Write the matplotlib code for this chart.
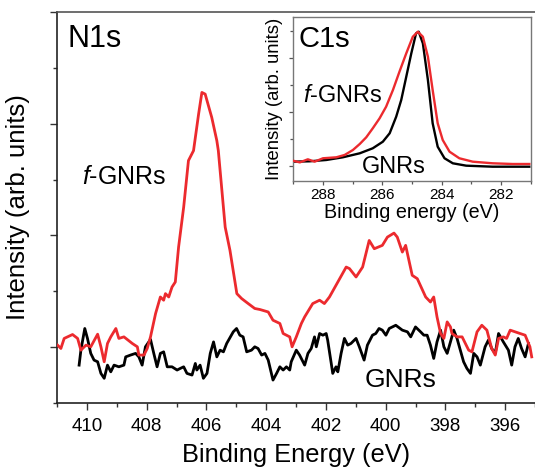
import matplotlib
matplotlib.use("Agg")
import matplotlib.pyplot as plt
from matplotlib.ticker import MultipleLocator, NullFormatter

plt.rcParams['font.family'] = ['Liberation Sans', 'DejaVu Sans']
plt.rcParams['mathtext.fontset'] = 'custom'
plt.rcParams['mathtext.rm'] = 'Liberation Sans'
plt.rcParams['mathtext.it'] = 'Liberation Sans:italic'

RED = '#ec2a2e'

# ---- N1s main spectrum (binding energy eV, intensity arb.) ----
n1s_f_x = [410.98, 410.87, 410.76, 410.48, 410.31, 410.20, 410.03, 409.87, 409.64, 409.53,
           409.42, 409.31, 409.20, 409.03, 408.93, 408.76, 408.48, 408.31, 408.26, 408.09,
           407.98, 407.87, 407.70, 407.54, 407.43, 407.37, 407.26, 407.15, 407.04, 406.93,
           406.76, 406.60, 406.43, 406.26, 406.15, 406.04, 405.82, 405.65, 405.60, 405.37,
           405.21, 404.98, 404.82, 404.60, 404.38, 404.21, 403.93, 403.77, 403.54, 403.43,
           403.21, 403.13, 402.99, 402.82, 402.71, 402.44, 402.21, 402.05, 401.88, 401.60,
           401.32, 401.21, 400.99, 400.77, 400.55, 400.38, 400.11, 399.94, 399.72, 399.61,
           399.44, 399.33, 399.11, 398.94, 398.66, 398.50, 398.39, 398.28, 398.16, 398.05,
           397.94, 397.83, 397.78, 397.61, 397.44, 397.22, 397.11, 396.94, 396.78, 396.61,
           396.45, 396.33, 396.22, 396.06, 395.95, 395.83, 395.50, 395.33, 395.17, 395.11]
n1s_f_y = [0.018, -0.012, 0.078, 0.113, 0.078, -0.027, 0.018, 0.003, 0.116, 0.003,
           -0.131, 0.033, 0.092, 0.167, 0.078, 0.092, 0.033, 0.003, -0.071, -0.071,
           -0.012, 0.092, 0.301, 0.449, 0.420, 0.479, 0.449, 0.538, 0.583, 0.896,
           1.253, 1.670, 1.759, 2.087, 2.280, 2.265, 2.056, 1.848, 1.759, 1.074,
           0.866, 0.479, 0.435, 0.390, 0.346, 0.337, 0.315, 0.241, 0.212, 0.122,
           0.092, 0.003, 0.092, 0.212, 0.271, 0.390, 0.420, 0.390, 0.449, 0.583,
           0.717, 0.703, 0.628, 0.717, 0.955, 0.881, 0.911, 0.985, 1.021, 0.985,
           0.851, 0.911, 0.643, 0.613, 0.449, 0.404, 0.449, 0.271, 0.122, 0.078,
           0.226, 0.181, 0.122, 0.092, 0.092, -0.027, -0.042, 0.137, 0.196, 0.152,
           -0.012, -0.071, 0.078, 0.092, 0.078, 0.152, 0.122, 0.107, 0.003, -0.087]

n1s_g_x = [410.26, 410.20, 410.07, 409.98, 409.87, 409.76, 409.64, 409.53, 409.42, 409.31,
           409.20, 409.09, 408.93, 408.76, 408.70, 408.54, 408.37, 408.26, 408.15, 408.04,
           407.87, 407.76, 407.65, 407.54, 407.43, 407.31, 407.15, 406.98, 406.87, 406.76,
           406.65, 406.48, 406.37, 406.32, 406.21, 406.10, 405.98, 405.87, 405.76, 405.65,
           405.54, 405.43, 405.32, 405.10, 404.99, 404.88, 404.77, 404.65, 404.49, 404.38,
           404.27, 404.15, 404.04, 403.93, 403.77, 403.65, 403.54, 403.43, 403.32, 403.21,
           403.16, 402.99, 402.88, 402.71, 402.60, 402.49, 402.38, 402.32, 402.21, 402.10,
           401.99, 401.94, 401.82, 401.77, 401.66, 401.60, 401.49, 401.38, 401.27, 401.16,
           400.99, 400.88, 400.72, 400.61, 400.44, 400.33, 400.22, 400.11, 399.99, 399.88,
           399.66, 399.44, 399.27, 399.16, 399.00, 398.83, 398.72, 398.61, 398.50, 398.39,
           398.28, 398.16, 398.05, 397.94, 397.83, 397.72, 397.61, 397.50, 397.39, 397.28,
           397.16, 397.05, 396.94, 396.83, 396.67, 396.56, 396.45, 396.33, 396.22, 396.06,
           395.89, 395.78, 395.67, 395.56, 395.45, 395.33, 395.22]
n1s_g_y = [-0.161, -0.027, 0.167, 0.078, -0.056, -0.116, -0.131, -0.235, -0.279, -0.161,
           -0.221, -0.161, -0.176, -0.161, -0.087, -0.071, -0.056, -0.087, -0.161, 0.003,
           0.069, -0.056, -0.176, -0.056, -0.042, -0.176, -0.176, -0.205, -0.190, -0.176,
           -0.235, -0.250, -0.146, -0.205, -0.161, -0.279, -0.235, -0.056, 0.047, -0.087,
           -0.027, -0.042, 0.033, 0.137, 0.167, 0.107, 0.092, -0.042, -0.027, 0.003,
           -0.012, -0.071, -0.056, -0.116, -0.295, -0.235, -0.176, -0.205, -0.176, -0.205,
           -0.131, -0.027, -0.071, -0.161, -0.056, -0.012, 0.092, 0.003, 0.122, 0.107,
           0.122, 0.063, -0.146, -0.235, -0.176, -0.221, -0.056, 0.078, 0.018, 0.033,
           0.078, 0.003, -0.116, 0.018, 0.107, 0.122, 0.167, 0.152, 0.107, 0.167,
           0.196, 0.152, 0.137, 0.092, 0.181, 0.137, 0.107, 0.107, 0.018, -0.101,
           0.047, 0.152, 0.003, -0.056, 0.047, 0.152, 0.078, -0.027, -0.131, -0.190,
           -0.235, -0.056, -0.087, -0.161, 0.003, 0.063, -0.012, -0.056, 0.122, 0.047,
           -0.027, -0.161, 0.003, 0.078, -0.012, -0.087, 0.033]

# ---- C1s inset spectrum ----
c1s_f_x = [289.01, 288.78, 288.51, 288.28, 288.00, 287.55, 287.27, 286.99, 286.76, 286.54,
           286.32, 286.09, 285.87, 285.64, 285.42, 285.19, 284.97, 284.80, 284.63, 284.46,
           284.30, 284.13, 283.96, 283.73, 283.40, 282.95, 282.28, 281.60, 281.04]
c1s_f_y = [0.098, 0.067, 0.124, 0.080, 0.143, 0.161, 0.204, 0.296, 0.407, 0.531,
           0.698, 0.883, 1.098, 1.407, 1.746, 2.087, 2.394, 2.487, 2.394, 2.024,
           1.407, 0.791, 0.481, 0.265, 0.143, 0.080, 0.050, 0.037, 0.037]
c1s_g_x = [289.01, 288.45, 287.89, 287.33, 286.76, 286.32, 285.98, 285.75, 285.53, 285.36,
           285.19, 285.02, 284.86, 284.77, 284.63, 284.46, 284.30, 284.13, 283.90, 283.62,
           283.17, 282.28, 281.04]
c1s_g_y = [0.080, 0.087, 0.111, 0.161, 0.235, 0.328, 0.450, 0.606, 0.913, 1.222,
           1.654, 2.087, 2.457, 2.487, 2.272, 1.593, 0.791, 0.357, 0.143, 0.050,
           0.006, -0.013, -0.013]

main_xticks = [410, 408, 406, 404, 402, 400, 398, 396]
inset_xticks = [288, 286, 284, 282]

W, H = 535, 469
fig = plt.figure(figsize=(W / 100, H / 100), dpi=100)

# main axes
mx0, mx1, my0, my1 = 57, 535, 403, 12
ax = fig.add_axes([mx0 / W, 1 - my0 / H, (mx1 - mx0) / W, (my0 - my1) / H])
ax.plot(n1s_g_x, n1s_g_y, color='black', lw=2.0, zorder=2)
ax.plot(n1s_f_x, n1s_f_y, color=RED, lw=2.0, zorder=3)
ax.set_xlim(411, 395)
ax.set_ylim(-0.5, 3.0)
ax.set_xticks(main_xticks)
ax.set_xticklabels([str(t) for t in main_xticks])
ax.xaxis.set_minor_locator(MultipleLocator(1))
ax.yaxis.set_major_locator(MultipleLocator(1))
ax.yaxis.set_minor_locator(MultipleLocator(0.5))
ax.yaxis.set_major_formatter(NullFormatter())
ax.tick_params(axis='both', which='major', direction='out', length=5, width=1.0,
               labelsize=13.5, color='#333333')
ax.tick_params(axis='both', which='minor', direction='out', length=3, width=1.0, color='#333333')
ax.tick_params(axis='x', which='major', pad=5.5)
ax.spines['right'].set_visible(False)
for s in ['left', 'bottom']:
    ax.spines[s].set_color('#222222')
    ax.spines[s].set_linewidth(1.2)
ax.spines['top'].set_color('#555555')
ax.spines['top'].set_linewidth(1.2)
ax.set_xlabel('Binding Energy (eV)', fontsize=18.3, labelpad=6)
ax.set_ylabel('Intensity (arb. units)', fontsize=18.5, labelpad=11)

ax.text(0.023, 0.910, 'N1s', transform=ax.transAxes, fontsize=22, va='baseline', ha='left')
ax.text(0.052, 0.560, r'$\mathit{f}$-GNRs', transform=ax.transAxes, fontsize=18,
        va='baseline', ha='left')
ax.text(0.644, 0.041, 'GNRs', transform=ax.transAxes, fontsize=19, va='baseline', ha='left')

# inset axes
ix0, ix1, iy0, iy1 = 293.3, 530.5, 181, 17
ins = fig.add_axes([ix0 / W, 1 - iy0 / H, (ix1 - ix0) / W, (iy0 - iy1) / H])
ins.plot(c1s_g_x, c1s_g_y, color='black', lw=1.7, zorder=2)
ins.plot(c1s_f_x, c1s_f_y, color=RED, lw=1.7, zorder=3)
ins.set_xlim(289, 281)
ins.set_ylim(-0.278, 2.76)
ins.set_xticks(inset_xticks)
ins.set_xticklabels([str(t) for t in inset_xticks])
ins.xaxis.set_minor_locator(MultipleLocator(1))
ins.yaxis.set_major_locator(MultipleLocator(1))
ins.yaxis.set_minor_locator(MultipleLocator(0.5))
ins.yaxis.set_major_formatter(NullFormatter())
ins.tick_params(axis='both', which='major', direction='out', length=3, width=0.9,
                labelsize=11, pad=2, color='#555555')
ins.tick_params(axis='both', which='minor', direction='out', length=2, width=0.9, color='#555555')
for s in ins.spines.values():
    s.set_color('#777777')
    s.set_linewidth(1.0)
ins.set_xlabel('Binding energy (eV)', fontsize=14.2, labelpad=1)
ins.set_ylabel('Intensity (arb. units)', fontsize=13.3, labelpad=2)

ins.text(0.020, 0.817, 'C1s', transform=ins.transAxes, fontsize=21, va='baseline', ha='left')
ins.text(0.041, 0.482, r'$\mathit{f}$-GNRs', transform=ins.transAxes, fontsize=17,
         va='baseline', ha='left')
ins.text(0.290, 0.049, 'GNRs', transform=ins.transAxes, fontsize=17, va='baseline', ha='left')

fig.savefig('out.png', dpi=100)
